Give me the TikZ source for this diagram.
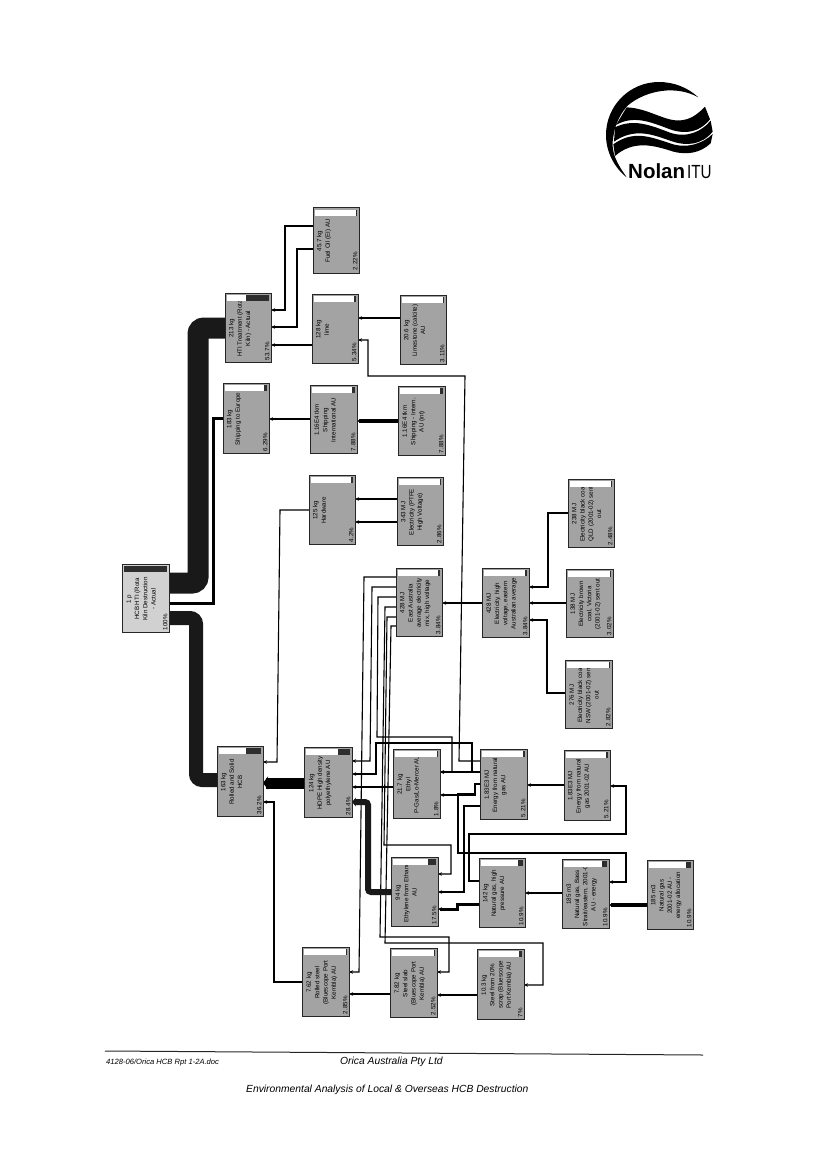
\documentclass[tikz,border=0pt]{standalone}
\usepackage{fontspec}
\usepackage{graphicx}
\setmainfont{Liberation Sans}
\usetikzlibrary{arrows.meta}
\pgfdeclarelayer{wires}
\pgfsetlayers{wires,main}
\definecolor{halftone}{gray}{0.64}
\definecolor{rootfill}{gray}{0.82}
\definecolor{bardark}{gray}{0.18}
\tikzset{
  procbox/.style={draw=black!85,line width=1pt,fill=halftone,inner sep=0pt,outer sep=0pt},
  pcttext/.style={inner sep=0pt,outer sep=0pt,font=\fontsize{6.2}{7}\selectfont,text=black},
  conn/.style={draw=black,line width=1.1pt,-{Stealth[length=4pt,width=3.5pt]}},
  plain/.style={draw=black,line width=1.1pt},
  band/.style={draw=black!90,rounded corners=6pt,line cap=butt},
  foot/.style={inner sep=0pt,font=\itshape}
}
% name x1 y1 x2 y2 pct text
\newcommand{\procnode}[8][halftone]{%
  \pgfmathsetmacro{\bxw}{#5-#3}\pgfmathsetmacro{\bxh}{#6-#4}%
  \pgfmathsetmacro{\bxcx}{(#3+#5)/2}\pgfmathsetmacro{\bxcy}{(#4+#6)/2}%
  \pgfmathsetmacro{\bxbar}{(\bxw-4)*#7/100}%
  \node[procbox,fill=#1,minimum width=\bxw pt,minimum height=\bxh pt] (#2) at (\bxcx,\bxcy)
    {\rotatebox{90}{\makebox[66pt][l]{\fontsize{6.2}{8.3}\selectfont\begin{minipage}[c][38pt][t]{64pt}\centering #8\end{minipage}}}};
  \fill[white] (#3+2,#4+1.5) rectangle (#5-2,#4+7.5);
  \fill[bardark] (#5-2-\bxbar,#4+1.5) rectangle (#5-2,#4+7.5);
  \node[pcttext,rotate=90,anchor=south west] (#2-pct) at (#5-1.5,#6-2) {#7\%};
}
\begin{document}
\begin{tikzpicture}[x=1pt,y=-1pt]
\useasboundingbox (0,0) rectangle (828,1170);

% ---- process boxes
\procnode[rootfill]{root}{122}{564}{169}{632}{100}{1 p\\HCB HTI (Rota\\Kiln Destruction\\- Actual}
\procnode{hti}{225}{293}{271}{362}{53.7}{213 kg\\HTI Treatment (Rota\\Kiln) - Actual}
\procnode{fuel}{313}{208}{359}{272}{2.22}{45.7 kg\\Fuel Oil (EI) AU}
\procnode{lime}{312}{294}{358}{363}{5.34}{128 kg\\lime}
\procnode{limest}{400}{295}{446}{364}{3.11}{20.6 kg\\Limestone (calcite)\\AU}
\procnode{ship}{223}{383}{269}{453}{6.29}{183 kg\\Shipping to Europe}
\procnode{shipi}{310}{385}{357}{453}{7.88}{1.16E4 tkm\\Shipping\\International AU}
\procnode{shipx}{398}{386}{445}{455}{7.88}{1.16E4 tkm\\Shipping - Intern.\\AU (int)}
\procnode{hard}{309}{475}{355}{544}{4.2}{125 kg\\Hardware}
\procnode{ptfe}{397}{477}{443}{545}{2.86}{343 MJ\\Electricity (PTFE\\High Voltage)}
\procnode{east}{396}{568}{442}{636}{3.84}{428 MJ\\East Australia\\average electricity\\mix, high voltage}
\procnode{elec}{482}{568}{529}{637}{3.84}{428 MJ\\Electricity, high\\voltage, eastern\\Australian average}
\procnode{qld}{568}{479}{614}{547}{2.48}{238 MJ\\Electricity black coal\\QLD (2001-02) sent\\out}
\procnode{vic}{566}{569}{613}{637}{3.02}{138 MJ\\Electricity brown\\coal, Victoria\\(2001-02) sent out}
\procnode{nsw}{565}{660}{612}{728}{2.82}{276 MJ\\Electricity black coal\\NSW (2001-02) sent\\out}
\procnode{rolled}{217}{746}{263}{816}{36.2}{163 kg\\Rolled and Solid\\HCB}
\procnode{hdpe}{304}{747}{352}{817}{28.4}{124 kg\\HDPE High density\\polyethylene AU}
\procnode{bisal}{393}{749}{440}{818}{1.8}{21.7 kg\\Ethyl\\P-Gas/Lo-Mercer AU}
\procnode{gasa}{480}{749}{527}{819}{5.21}{1.83E3 MJ\\Energy from natural\\gas AU}
\procnode{gasb}{564}{750}{610}{820}{5.21}{1.83E3 MJ\\Energy from natural\\gas 2001-02 AU}
\procnode{ethy}{391}{857}{438}{926}{17.5}{94 kg\\Ethylene from Ethane\\AU}
\procnode{nghp}{479}{858}{525}{927}{10.9}{142 kg\\Natural gas, high\\pressure AU}
\procnode{ngb}{562}{859}{609}{928}{10.9}{185 m3\\Natural gas, Bass\\Strait/eastern, 2001-02\\AU - energy}
\procnode{ngc}{647}{860}{693}{929}{10.9}{185 m3\\Natural gas\\2001-02 AU -\\energy allocation}
\procnode{rsteel}{302}{947}{349}{1016}{2.85}{7.62 kg\\Rolled steel\\(Bluescope Port\\Kembla) AU}
\procnode{slab}{390}{948}{437}{1017}{2.52}{7.82 kg\\Steel slab\\(Bluescope Port\\Kembla) AU}
\procnode{spre}{477}{949}{524}{1019}{7}{10.3 kg\\Steel from 20\%\\scrap (Bluescope\\Port Kembla) AU}

% ---- connectors
\begin{pgfonlayer}{wires}
% from the root
\draw[band,line width=21pt] (root.east |- 0,583) -- (198,583) -- (198,328) -- (hti.west |- 0,328);
\draw[band,line width=14pt] (root.east |- 0,618) -- (196,618) -- (196,780) -- (rolled.west |- 0,780);
\draw[plain,line width=3pt] (root.east |- 0,603) -- (213,603) -- (213,418) -- (ship.west |- 0,418);
% HTI group
\draw[conn] (fuel.west |- 0,226) -- (285,226) -- (285,310) -- (hti.east |- 0,310);
\draw[conn] (fuel.west |- 0,249) -- (297,249) -- (297,327) -- (hti.east |- 0,327);
\draw[conn,line width=1.3pt] (lime.west |- 0,345) -- (hti.east |- 0,345);
\draw[conn] (limest.west |- 0,318) -- (lime.east |- 0,318);
\draw[conn] (gasa.west |- 0,761) -- (459,761) -- (465,376) -- (368,376) -- (368,340) -- (lime.east |- 0,340);
% shipping
\draw[conn,line width=2.5pt] (shipi.west |- 0,419) -- (ship.east |- 0,419);
\draw[conn,line width=3.2pt] (shipx.west |- 0,421) -- (shipi.east |- 0,421);
% hardware
\draw[conn] (hard.west |- 0,510) -- (280,510) -- (277,762) -- (rolled.east |- 0,762);
\draw[conn] (ptfe.west |- 0,499) -- (hard.east |- 0,499);
\draw[conn] (ptfe.west |- 0,522) -- (hard.east |- 0,522);
% electricity
\draw[conn,line width=2.5pt] (elec.west |- 0,603) -- (east.east |- 0,603);
\draw[conn] (qld.west |- 0,513) -- (548,513) -- (548,587) -- (elec.east |- 0,587);
\draw[conn] (vic.west |- 0,603) -- (elec.east |- 0,603);
\draw[conn] (nsw.west |- 0,693) -- (547,693) -- (547,620) -- (elec.east |- 0,620);
% East Australia mix to its users
\draw[conn] (east.west |- 0,577) -- (364,577) -- (359,972) -- (rsteel.east |- 0,972);
\draw[conn] (east.west |- 0,587) -- (372,587) -- (370,761) -- (hdpe.east |- 0,761);
\draw[conn] (east.west |- 0,597) -- (378,597) -- (377,737) -- (452,737) -- (452,772) -- (bisal.east |- 0,772);
\draw[conn] (east.west |- 0,607) -- (385,607) -- (380,937) -- (449,937) -- (449,972) -- (slab.east |- 0,972);
\draw[conn] (east.west |- 0,617) -- (387,617) -- (384,845) -- (451,845) -- (451,874) -- (ethy.east |- 0,874);
\draw[conn] (east.west |- 0,626) -- (391,626) -- (385,943) -- (543,943) -- (543,985) -- (spre.east |- 0,985);
% HDPE and neighbours
\draw[conn,line width=11pt,-{Stealth[length=5pt,width=13pt]}] (hdpe.west |- 0,783) -- (rolled.east |- 0,783);
\draw[conn,line width=1.3pt] (bisal.west |- 0,787) -- (hdpe.east |- 0,787);
\draw[band,line width=6pt,rounded corners=3pt,-{Stealth[length=4pt,width=9pt]}] (ethy.west |- 0,892) -- (368,892) -- (368,802) -- (hdpe.east |- 0,802);
\draw[conn] (gasa.west |- 0,772) -- (472,772) -- (472,743) -- (376,743) -- (376,774) -- (hdpe.east |- 0,774);
\draw[conn] (gasa.west |- 0,772) -- (bisal.east |- 0,772);
\draw[conn] (gasa.west |- 0,784) -- (475,784) -- (475,795) -- (bisal.east |- 0,795);
\draw[conn] (gasa.west |- 0,784) -- (475,784) -- (475,794) -- (458,794) -- (458,853) -- (626,853) -- (626,882) -- (ngb.east |- 0,882);
\draw[conn,line width=2.5pt] (gasa.west |- 0,806) -- (464,806) -- (464,892) -- (ethy.east |- 0,892);
\draw[conn,line width=3pt] (nghp.west |- 0,904) -- (457,904) -- (457,909) -- (ethy.east |- 0,909);
\draw[conn] (nghp.west |- 0,881) -- (469,881) -- (469,834) -- (626,834) -- (626,786) -- (gasb.east |- 0,786);
\draw[conn,line width=2.5pt] (gasb.west |- 0,785) -- (gasa.east |- 0,785);
\draw[conn,line width=2.5pt] (ngb.west |- 0,893) -- (nghp.east |- 0,893);
\draw[conn,line width=3.2pt] (ngc.west |- 0,905) -- (ngb.east |- 0,905);
% steel chain
\draw[conn] (slab.west |- 0,994) -- (rsteel.east |- 0,994);
\draw[conn] (spre.west |- 0,995) -- (slab.east |- 0,995);
\draw[conn] (rsteel.west |- 0,982) -- (274,982) -- (274,802) -- (rolled.east |- 0,802);
\end{pgfonlayer}

% ---- logo
\begin{scope}[x=0.3333pt,y=-0.3333pt,shift={(590pt,-90pt)}]
\fill[black] (325,22) .. controls (293,-8) and (250,-24) .. (207,-24)
  .. controls (119,-24) and (48,47) .. (48,135)
  .. controls (48,185) and (72,232) .. (110,262)
  .. controls (85,225) and (60,190) .. (70,140)
  .. controls (75,100) and (95,65) .. (115,45)
  .. controls (170,0) and (260,-15) .. (325,22) -- cycle;
\fill[black] (110,52) .. controls (180,55) and (230,100) .. (280,90)
  .. controls (310,85) and (330,65) .. (345,50) -- (360,88)
  .. controls (330,125) and (290,135) .. (240,118)
  .. controls (180,95) and (130,75) .. (78,105) -- cycle;
\fill[black] (75,112) .. controls (130,85) and (180,105) .. (240,128)
  .. controls (290,145) and (335,125) .. (362,92) -- (368,125)
  .. controls (335,165) and (290,170) .. (240,152)
  .. controls (180,130) and (130,115) .. (72,155) -- cycle;
\fill[black] (70,163) .. controls (130,120) and (180,140) .. (240,160)
  .. controls (290,178) and (340,160) .. (368,132) -- (362,160)
  .. controls (330,190) and (290,195) .. (250,185)
  .. controls (190,165) and (130,150) .. (75,198) -- cycle;
\end{scope}
\node[anchor=base west,inner sep=0pt,font=\bfseries\fontsize{20.5}{20}\selectfont] (lognolan) at (628,178) {Nolan};
\node[anchor=base west,inner sep=0pt,font=\fontsize{19}{19}\selectfont,xscale=0.8] (logitu) at (687,178) {ITU};

% ---- footer
\coordinate (ruleL) at (105,1051);
\coordinate (ruleR) at (703,1055);
\draw[line width=1pt,black!85] (ruleL) -- (ruleR);
\node[foot,anchor=base west,font=\itshape\fontsize{7.6}{9}\selectfont] (fdoc) at (106,1064) {4128-06/Orica HCB Rpt 1-2A.doc};
\node[foot,anchor=base west,font=\itshape\fontsize{10.3}{12}\selectfont] (forg) at (340,1064) {Orica Australia Pty Ltd};
\node[foot,anchor=base west,font=\itshape\fontsize{10.3}{12}\selectfont] (ftitle) at (246,1092) {Environmental Analysis of Local \& Overseas HCB Destruction};
\end{tikzpicture}
\end{document}
